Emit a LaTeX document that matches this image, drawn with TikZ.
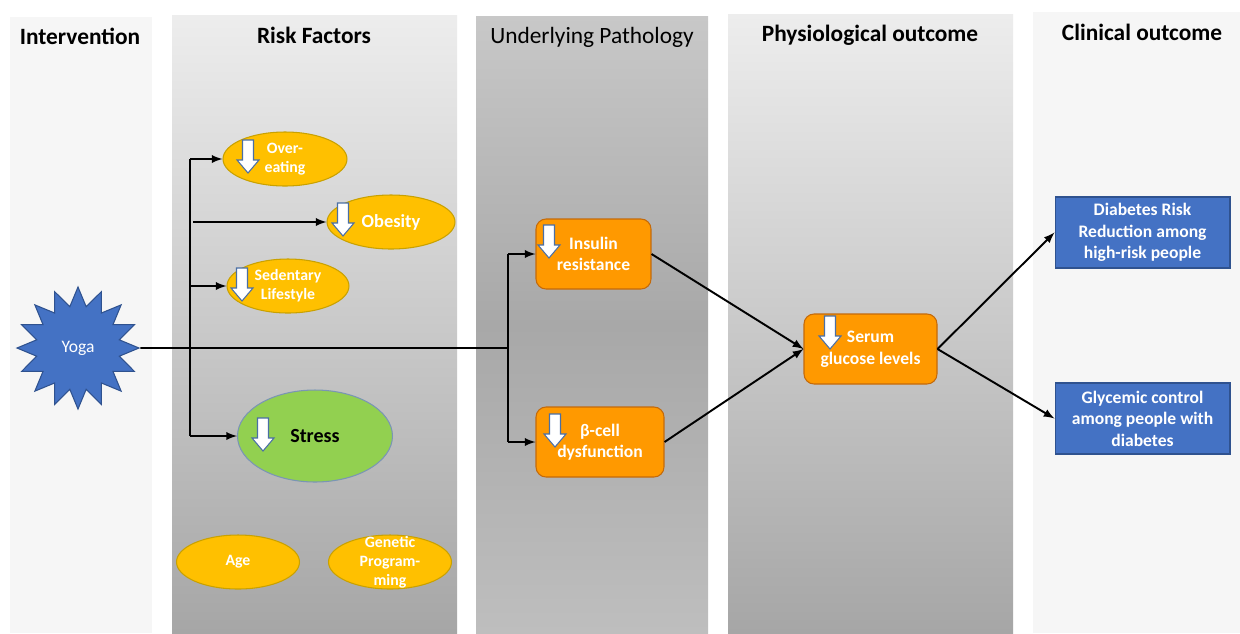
\documentclass[tikz,border=0pt]{standalone}
\usepackage{fontspec}
\setmainfont{Carlito}
\usepackage{tikz}
\usetikzlibrary{arrows,shapes.geometric}
\definecolor{gold}{HTML}{FFC000}
\definecolor{golddark}{HTML}{C9A100}
\definecolor{leaf}{HTML}{92D050}
\definecolor{leafline}{HTML}{7A95B5}
\definecolor{orng}{HTML}{FF9900}
\definecolor{orngdark}{HTML}{C46A0A}
\definecolor{steel}{HTML}{4472C4}
\definecolor{steeldark}{HTML}{2F528F}
\definecolor{paper}{HTML}{F6F6F6}
\definecolor{iconline}{HTML}{4A6FA5}
\definecolor{rfTop}{HTML}{EDEDED}
\definecolor{rfBot}{HTML}{A6A6A6}
\definecolor{upTop}{HTML}{C8C8C8}
\definecolor{upMid}{HTML}{A8A8A8}
\definecolor{upBot}{HTML}{BEBEBE}
\tikzstyle{every node}=[font=\bfseries\fontsize{10}{12.2}\selectfont]
\tikzset{
  factor/.style={ellipse, fill=gold, draw=golddark, line width=0.6pt, text=white, align=center,
    minimum width=2.46cm, minimum height=1.08cm, inner sep=0pt,
    font=\bfseries\fontsize{9}{10.8}\selectfont},
  pathbox/.style={rounded corners=0.2cm, fill=orng, draw=orngdark, line width=0.6pt, text=white,
    align=center, minimum height=1.4cm, inner sep=0pt},
  outcome/.style={fill=steel, draw=steeldark, line width=0.6pt, text=white, align=center,
    minimum width=3.5cm, minimum height=1.42cm, inner sep=0pt},
  title/.style={font=\bfseries\fontsize{13.3}{16}\selectfont},
  link/.style={line width=1.1pt, -latex},
  dnarrow/.pic={\draw[fill=white, draw=iconline, line width=0.6pt]
    (-5.5,0) -- (5.5,0) -- (5.5,20) -- (11,20) -- (0,33) -- (-11,20) -- (-5.5,20) -- cycle;}
}
\begin{document}
\begin{tikzpicture}[x=0.02cm, y=-0.02cm]
                \useasboundingbox (0,0) rectangle (1240,633);
                \fill[white] (0,0) rectangle (1240,633);

                \fill[paper] (10,17) rectangle (152,633);
                \shade[top color=rfTop, bottom color=rfBot] (172,15) rectangle (457,633);
                \shade[top color=upTop, bottom color=upBot, middle color=upMid] (476,16) rectangle (708,633);
                \shade[top color=rfTop, bottom color=rfBot] (728,14) rectangle (1013,633);
                \fill[paper] (1033,12) rectangle (1240,633);

                \node[title] (tInt) at (80,36) {Intervention};
                \node[title] (tRisk) at (314,35) {Risk Factors};
                \node[title, font=\fontsize{13.3}{16}\selectfont] (tPath) at (592,37) {Underlying Pathology};
                \node[title] (tPhys) at (870,35) {Physiological outcome};
                \node[title] (tClin) at (1142,32) {Clinical outcome};

                \node[star, star points=16, star point ratio=1.45, fill=steel, draw=steeldark, line width=0.6pt,
                  minimum size=2.44cm, inner sep=0pt, text=white, font=\fontsize{10}{12}\selectfont] (yoga) at (78,348) {Yoga};

                \node[factor, minimum width=2.48cm] (overeat) at (285,159) {Over-\\eating};
                \node[factor, minimum width=2.56cm, font=\bfseries\fontsize{10.5}{12}\selectfont] (obesity) at (391,222) {Obesity};
                \node[factor, minimum width=2.44cm] (sedent) at (288,286) {Sedentary\\Lifestyle};
                \node[factor, fill=leaf, draw=leafline, text=black, minimum width=3.1cm, minimum height=1.84cm,
                  font=\bfseries\fontsize{11.4}{13}\selectfont] (stress) at (315,436) {Stress};
                \node[factor] (age) at (238,562) {\raisebox{-1pt}{Age}};
                \node[factor] (genetic) at (390,562) {\smash{\raisebox{-2.5pt}{\parbox[c]{1.4cm}{\centering Genetic\\Program-\\ming}}}};

                \node[pathbox, minimum width=2.3cm] (insulin) at (593.5,254) {Insulin\\resistance};
                \node[pathbox, minimum width=2.56cm] (betacell) at (600,442) {β-cell\\dysfunction};
                \node[pathbox, minimum width=2.66cm] (serum) at (870.5,349) {Serum\\glucose levels};

                \node[outcome] (riskred) at (1142.5,232.5) {Diabetes Risk\\Reduction among\\high-risk people};
                \node[outcome] (glycemic) at (1142.5,418.5) {Glycemic control\\among people with\\diabetes};

                \pic at ([shift={(-37,-19)}]overeat.center) {dnarrow};
                \pic at ([shift={(-48,-19)}]obesity.center) {dnarrow};
                \pic at ([shift={(-46,-18)}]sedent.center) {dnarrow};
                \pic at ([shift={(-52,-18)}]stress.center) {dnarrow};
                \pic at ([shift={(-44.5,-29)}]insulin.center) {dnarrow};
                \pic at ([shift={(-45,-28)}]betacell.center) {dnarrow};
                \pic at ([shift={(-40.5,-33)}]serum.center) {dnarrow};

                \coordinate (rTop) at (190,159);
                \coordinate (rObe) at (193,222);
                \coordinate (rSed) at (190,286);
                \coordinate (rBot) at (190,436);
                \coordinate (pMid) at (508,348);
                \coordinate (pTop) at (508,254);
                \coordinate (pBot) at (508,442);

                \draw[line width=1.1pt] (yoga.east) -- (pMid);
                \draw[line width=1.1pt] (rTop) -- (rBot);
                \draw[line width=1.1pt] (pTop) -- (pBot);
                \draw[link] (rTop) -- (overeat.west);
                \draw[link] (rObe) -- (obesity.west);
                \draw[link] (rSed) -- (sedent.west);
                \draw[link] (rBot) -- (stress.west);
                \draw[link] (pTop) -- (insulin.west);
                \draw[link] (pBot) -- (betacell.west);
                \draw[link] (insulin.east) -- (serum.west);
                \draw[link] (betacell.east) -- (serum.west);
                \draw[link] (serum.east) -- (riskred.west);
                \draw[link] (serum.east) -- (glycemic.west);
            \end{tikzpicture}
\end{document}
